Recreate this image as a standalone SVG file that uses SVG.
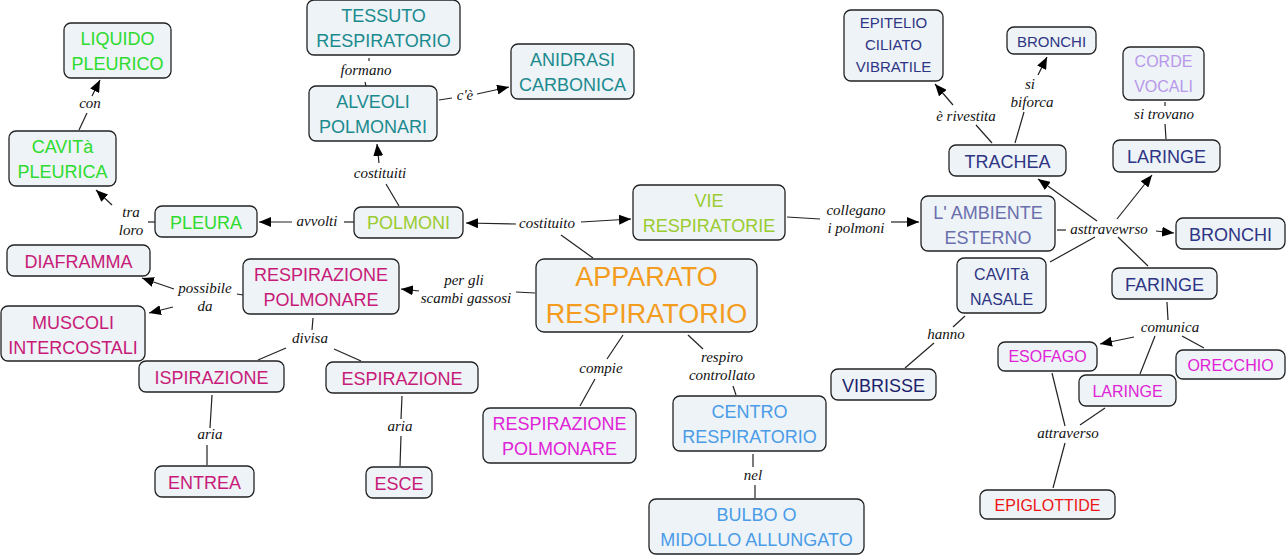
<svg xmlns="http://www.w3.org/2000/svg" width="1288" height="557" viewBox="0 0 1288 557">
<style>
.b{fill:#edf3f6;stroke:#222;stroke-width:1.3}
.t{font-family:"Liberation Sans",Arial,sans-serif;font-size:18px;text-anchor:middle}
.s{font-size:16px}
.l{font-family:"Liberation Serif","DejaVu Serif",serif;font-style:italic;font-size:15px;text-anchor:middle;fill:#111}
.c line{stroke:#222;stroke-width:1.2}
.a{marker-end:url(#ah)}
.g1{fill:#2edb2e}.g2{fill:#9acb2f}.tl{fill:#1b8a8f}.or{fill:#f39c1e}.cr{fill:#c81a78}.mg{fill:#e023d6}
.lb{fill:#4a9be8}.nv{fill:#2e3585}.dn{fill:#1c1f6b}.gb{fill:#6a6fae}.lv{fill:#b898ea}.rd{fill:#ee1515}
</style>
<defs>
<marker id="ah" viewBox="0 0 12 10" refX="12" refY="5" markerWidth="12" markerHeight="10" markerUnits="userSpaceOnUse" orient="auto"><path d="M0,0 L12,5 L0,10 z" fill="#000"/></marker>
</defs>
<rect width="1288" height="557" fill="#fff"/>

<g id="connectors" class="c">
<line x1="79" y1="130" x2="87" y2="113"/><line class="a" x1="92" y1="96" x2="100" y2="80"/>
<line x1="155" y1="222" x2="148" y2="222"/><line class="a" x1="112" y1="205" x2="96" y2="190"/>
<line x1="354" y1="222" x2="344" y2="222"/><line class="a" x1="292" y1="222" x2="259" y2="222"/>
<line x1="399" y1="206" x2="386" y2="184"/><line class="a" x1="379" y1="163" x2="377" y2="144"/>
<line x1="366" y1="86" x2="365" y2="82"/><line x1="369" y1="61" x2="369" y2="58"/>
<line x1="439" y1="100" x2="452" y2="98"/><line class="a" x1="477" y1="94" x2="509" y2="87"/>
<line x1="593" y1="258" x2="561" y2="235"/><line class="a" x1="516" y1="224" x2="466" y2="223"/><line class="a" x1="581" y1="222" x2="631" y2="219"/>
<line x1="535" y1="293" x2="516" y2="292"/><line class="a" x1="419" y1="291" x2="401" y2="289"/>
<line x1="243" y1="295" x2="237" y2="294"/><line class="a" x1="174" y1="289" x2="142" y2="278"/><line class="a" x1="173" y1="307" x2="149" y2="313"/>
<line x1="313" y1="318" x2="312" y2="330"/><line x1="286" y1="348" x2="258" y2="360"/><line x1="334" y1="349" x2="361" y2="361"/>
<line x1="212" y1="395" x2="210" y2="428"/><line x1="207" y1="445" x2="207" y2="465"/>
<line x1="402" y1="396" x2="401" y2="419"/><line x1="401" y1="436" x2="400" y2="466"/>
<line x1="623" y1="335" x2="607" y2="359"/><line x1="595" y1="379" x2="580" y2="406"/>
<line x1="688" y1="335" x2="703" y2="349"/><line x1="733" y1="386" x2="736" y2="395"/>
<line x1="753" y1="454" x2="753" y2="467"/><line x1="755" y1="485" x2="755" y2="498"/>
<line x1="787" y1="217" x2="820" y2="219"/><line class="a" x1="891" y1="222" x2="919" y2="222"/>
<line x1="1057" y1="230" x2="1066" y2="230"/><line class="a" x1="1097" y1="221" x2="1038" y2="179"/><line class="a" x1="1117" y1="219" x2="1152" y2="175"/><line class="a" x1="1156" y1="231" x2="1174" y2="233"/><line x1="1095" y1="237" x2="1050" y2="262"/><line x1="1118" y1="237" x2="1148" y2="266"/>
<line x1="965" y1="316" x2="953" y2="327"/><line x1="934" y1="343" x2="905" y2="368"/>
<line x1="992" y1="143" x2="976" y2="125"/><line class="a" x1="953" y1="105" x2="935" y2="84"/>
<line x1="1015" y1="143" x2="1024" y2="112"/><line class="a" x1="1038" y1="75" x2="1047" y2="57"/>
<line x1="1166" y1="139" x2="1165" y2="124"/><line x1="1165" y1="106" x2="1165" y2="102"/>
<line x1="1167" y1="302" x2="1168" y2="320"/><line class="a" x1="1134" y1="337" x2="1100" y2="344"/><line x1="1155" y1="336" x2="1140" y2="374"/><line x1="1182" y1="336" x2="1204" y2="348"/>
<line x1="1052" y1="373" x2="1065" y2="426"/><line x1="1105" y1="408" x2="1080" y2="425"/><line x1="1065" y1="443" x2="1053" y2="488"/>
<g id="link-labels">
<text class="l" x="90" y="108">con</text>
<text class="l" x="131" y="217">tra</text><text class="l" x="131" y="235">loro</text>
<text class="l" x="317" y="226">avvolti</text>
<text class="l" x="380" y="178">costituiti</text>
<text class="l" x="366" y="75">formano</text>
<text class="l" x="465" y="100">c'è</text>
<text class="l" x="547" y="228">costituito</text>
<text class="l" x="464" y="285">per gli</text><text class="l" x="466" y="303">scambi gassosi</text>
<text class="l" x="205" y="293">possibile</text><text class="l" x="205" y="311">da</text>
<text class="l" x="310" y="343">divisa</text>
<text class="l" x="210" y="439">aria</text>
<text class="l" x="400" y="431">aria</text>
<text class="l" x="601" y="373">compie</text>
<text class="l" x="722" y="362">respiro</text><text class="l" x="722" y="380">controllato</text>
<text class="l" x="753" y="480">nel</text>
<text class="l" x="856" y="215">collegano</text><text class="l" x="856" y="233">i polmoni</text>
<text class="l" x="1109" y="234">asttravewrso</text>
<text class="l" x="946" y="339">hanno</text>
<text class="l" x="966" y="121">è rivestita</text>
<text class="l" x="1030" y="89">si</text><text class="l" x="1032" y="107">biforca</text>
<text class="l" x="1164" y="119">si trovano</text>
<text class="l" x="1170" y="332">comunica</text>
<text class="l" x="1068" y="438">attraverso</text>
</g>
</g>

<g id="liquido-pleurico"><rect class="b" x="64" y="23" width="107" height="55" rx="7"/><text class="t g1" x="117.5" y="44.5">LIQUIDO<tspan x="117.5" y="69.5">PLEURICO</tspan></text></g>
<g id="cavita-pleurica"><rect class="b" x="9" y="131" width="107" height="55" rx="7"/><text class="t g1" x="62.5" y="152.5">CAVITà<tspan x="62.5" y="177.5">PLEURICA</tspan></text></g>
<g id="pleura"><rect class="b" x="155" y="206" width="102" height="31" rx="7"/><text class="t g1" x="206" y="228.5">PLEURA</text></g>
<g id="polmoni"><rect class="b" x="354" y="207" width="109" height="31" rx="7"/><text class="t g2" x="408.5" y="229">POLMONI</text></g>
<g id="tessuto-respiratorio"><rect class="b" x="307" y="0" width="153" height="55" rx="7"/><text class="t tl" x="383.5" y="21.5">TESSUTO<tspan x="383.5" y="46.5">RESPIRATORIO</tspan></text></g>
<g id="alveoli-polmonari"><rect class="b" x="309" y="86" width="128" height="55" rx="7"/><text class="t tl" x="373" y="107.5">ALVEOLI<tspan x="373" y="133">POLMONARI</tspan></text></g>
<g id="anidrasi-carbonica"><rect class="b" x="511" y="44" width="123" height="55" rx="7"/><text class="t tl" x="572.5" y="65.5">ANIDRASI<tspan x="572.5" y="91">CARBONICA</tspan></text></g>
<g id="vie-respiratorie"><rect class="b" x="633" y="185" width="152" height="55" rx="7"/><text class="t g2" x="709" y="206.5">VIE<tspan x="709" y="231.5">RESPIRATORIE</tspan></text></g>
<g id="apparato-respiratorio"><rect class="b" x="536" y="259" width="221" height="73" rx="8"/><text class="t or" style="font-size:27px" x="646.5" y="285.5">APPARATO<tspan x="646.5" y="322.5">RESPIRATORIO</tspan></text></g>
<g id="respirazione-polmonare-1"><rect class="b" x="243" y="259" width="156" height="55" rx="7"/><text class="t cr" x="321" y="280.5">RESPIRAZIONE<tspan x="321" y="305.5">POLMONARE</tspan></text></g>
<g id="diaframma"><rect class="b" x="7" y="245" width="143" height="31" rx="7"/><text class="t cr" x="78.5" y="267.5">DIAFRAMMA</text></g>
<g id="muscoli-intercostali"><rect class="b" x="1" y="306" width="144" height="55" rx="7"/><text class="t cr" x="73" y="328.5">MUSCOLI<tspan x="73" y="353.5">INTERCOSTALI</tspan></text></g>
<g id="ispirazione"><rect class="b" x="139" y="361" width="145" height="31" rx="7"/><text class="t cr" x="211.5" y="383.5">ISPIRAZIONE</text></g>
<g id="espirazione"><rect class="b" x="326" y="362" width="152" height="31" rx="7"/><text class="t cr" x="402" y="384.5">ESPIRAZIONE</text></g>
<g id="entrea"><rect class="b" x="155" y="466" width="99" height="31" rx="7"/><text class="t cr" x="204.5" y="488.5">ENTREA</text></g>
<g id="esce"><rect class="b" x="366" y="467" width="66" height="31" rx="7"/><text class="t cr" x="399" y="489.5">ESCE</text></g>
<g id="respirazione-polmonare-2"><rect class="b" x="483" y="408" width="153" height="55" rx="7"/><text class="t mg" x="559.5" y="429.5">RESPIRAZIONE<tspan x="559.5" y="455">POLMONARE</tspan></text></g>
<g id="centro-respiratorio"><rect class="b" x="673" y="396" width="153" height="55" rx="7"/><text class="t lb" x="749.5" y="417.5">CENTRO<tspan x="749.5" y="443">RESPIRATORIO</tspan></text></g>
<g id="bulbo"><rect class="b" x="649" y="499" width="215" height="55" rx="7"/><text class="t lb" x="756.5" y="520.5">BULBO O<tspan x="756.5" y="546">MIDOLLO ALLUNGATO</tspan></text></g>
<g id="vibrisse"><rect class="b" x="831" y="369" width="105" height="31" rx="7"/><text class="t dn" x="883.5" y="391.5">VIBRISSE</text></g>
<g id="epitelio"><rect class="b" x="844" y="10" width="99" height="71" rx="7"/><text class="t nv" style="font-size:15px" x="893.5" y="28">EPITELIO<tspan x="893.5" y="50">CILIATO</tspan><tspan x="893.5" y="72">VIBRATILE</tspan></text></g>
<g id="bronchi-1"><rect class="b" x="1007" y="27" width="89" height="27" rx="7"/><text class="t nv" style="font-size:15px" x="1051.5" y="46.5">BRONCHI</text></g>
<g id="corde-vocali"><rect class="b" x="1123" y="47" width="81" height="53" rx="7"/><text class="t lv s" x="1163.5" y="67">CORDE<tspan x="1163.5" y="92">VOCALI</tspan></text></g>
<g id="trachea"><rect class="b" x="949" y="145" width="117" height="31" rx="7"/><text class="t nv" x="1007.5" y="167.5">TRACHEA</text></g>
<g id="laringe-1"><rect class="b" x="1113" y="140" width="107" height="32" rx="7"/><text class="t nv" x="1166.5" y="162.5">LARINGE</text></g>
<g id="ambiente-esterno"><rect class="b" x="921" y="196" width="134" height="55" rx="7"/><text class="t gb" x="988" y="218.5">L' AMBIENTE<tspan x="988" y="243.5">ESTERNO</tspan></text></g>
<g id="bronchi-2"><rect class="b" x="1176" y="218" width="109" height="31" rx="7"/><text class="t nv" x="1230.5" y="240.5">BRONCHI</text></g>
<g id="cavita-nasale"><rect class="b" x="957" y="258" width="89" height="55" rx="7"/><text class="t nv s" x="1001.5" y="279.5">CAVITà<tspan x="1001.5" y="305">NASALE</tspan></text></g>
<g id="faringe"><rect class="b" x="1112" y="268" width="105" height="31" rx="7"/><text class="t nv" x="1164.5" y="290.5">FARINGE</text></g>
<g id="esofago"><rect class="b" x="998" y="342" width="99" height="29" rx="7"/><text class="t mg s" x="1047.5" y="361.5">ESOFAGO</text></g>
<g id="orecchio"><rect class="b" x="1176" y="350" width="109" height="29" rx="7"/><text class="t mg s" x="1230.5" y="370.5">ORECCHIO</text></g>
<g id="laringe-2"><rect class="b" x="1079" y="375" width="97" height="31" rx="7"/><text class="t mg s" x="1127.5" y="396.5">LARINGE</text></g>
<g id="epiglottide"><rect class="b" x="980" y="490" width="135" height="29" rx="7"/><text class="t rd s" x="1047.5" y="510.5">EPIGLOTTIDE</text></g>
</svg>
